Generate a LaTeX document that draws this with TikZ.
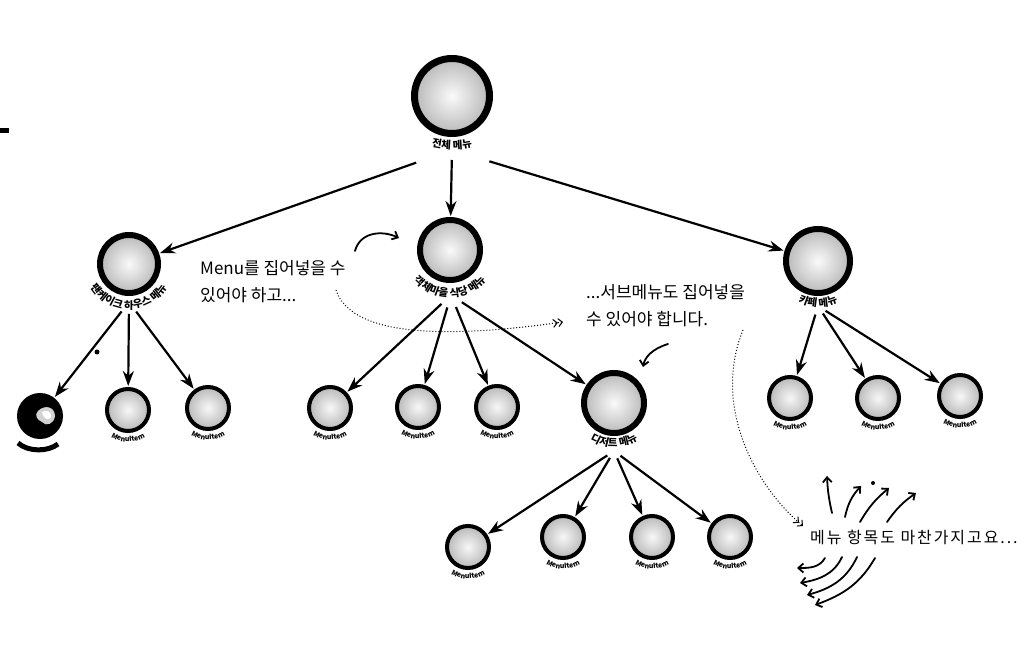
\documentclass[tikz,border=0pt]{standalone}
\usepackage{fontspec}
\newfontfamily\kr{Noto Sans CJK KR}
\usetikzlibrary{arrows.meta, calc, decorations.text}

\begin{document}
\begin{tikzpicture}[x=1pt, y=1pt,
        menu/.style={circle, draw, line width=6pt, inner sep=0pt, shading=radial, inner color=gray!4, outer color=gray!55},
        item/.style={circle, draw, line width=4pt, minimum size=42pt, inner sep=0pt, shading=radial, inner color=gray!6, outer color=gray!55},
        arr/.style={line width=2.2pt, -{Stealth[length=15pt, width=11pt]}, shorten >=1pt},
        hand/.style={line width=1.8pt, line cap=round, -{Straight Barb[length=5pt, width=9pt]}},
        dots/.style={dotted, line width=1pt, -{Straight Barb[length=4pt, width=8pt] Straight Barb[length=4pt, width=8pt]}},
        note/.style={font=\kr\fontsize{17}{27}\selectfont, align=left, inner sep=0pt},
        lbl/.style={decorate, decoration={text along path, text={|\kr\bfseries\fontsize{10.5}{10.5}\selectfont|#1}, text align=center}},
        itemlbl/.style={decorate, decoration={text along path, text={|\kr\bfseries\fontsize{7}{7}\selectfont|MenuItem}, text align=center}}
    ]
        \useasboundingbox (0,0) rectangle (1028,656);
        \fill (0,523) rectangle (9,528);

        % 메뉴
        \node [menu, line width=7pt, minimum size=75pt] (root) at (452,560) {};
        \node [menu, minimum size=58pt] (pancake) at (129,392) {};
        \node [menu, minimum size=60pt] (objville) at (450,406) {};
        \node [menu, minimum size=64pt] (cafe) at (818,395) {};
        \node [menu, minimum size=60pt] (dessert) at (614,253) {};

        % 메뉴 항목
        \node [circle, fill=black, minimum size=46pt, inner sep=0pt] (blob) at (40,240) {};
        \fill [gray!35] (38,245) .. controls (45,252) and (55,249) .. (55,240)
            .. controls (54,232) and (46,229) .. (42,234) .. controls (37,236) and (34,241) .. cycle;
        \fill [white] (42,244) .. controls (47,247) and (52,244) .. (51,239)
            .. controls (49,235) and (44,236) .. cycle;
        \draw [line width=5pt] (18,213) .. controls (28,204) and (48,204) .. (58,212);
        \fill (97,304) circle (2.5);
        \node [item] (p1) at (128,246) {};
        \node [item] (p2) at (208,248) {};
        \node [item] (o1) at (330,248) {};
        \node [item] (o2) at (418,249) {};
        \node [item] (o3) at (497,249) {};
        \node [item] (d1) at (468,109) {};
        \node [item] (d2) at (563,119) {};
        \node [item] (d3) at (652,119) {};
        \node [item] (d4) at (730,119) {};
        \node [item] (c1) at (790,258) {};
        \node [item] (c2) at (878,258) {};
        \node [item] (c3) at (960,260) {};

        % 이름표
        \path [lbl={전체 메뉴}] ($(452,597)+(245:90)$) arc[start angle=245, end angle=295, radius=90];
        \path [lbl={팬케이크 하우스 메뉴}] ($(pancake)+(185:45)$) arc[start angle=185, end angle=355, radius=45];
        \path [lbl={객체마을 식당 메뉴}] ($(objville)+(185:47)$) arc[start angle=185, end angle=355, radius=47];
        \path [lbl={카페 메뉴}] ($(cafe)+(200:46)$) arc[start angle=200, end angle=340, radius=46];
        \path [lbl={디저트 메뉴}] ($(dessert)+(200:44)$) arc[start angle=200, end angle=340, radius=44];
        \foreach \n in {p1,p2,o1,o2,o3,d1,d2,d3,d4,c1,c2,c3}
            \path [itemlbl] ($(\n)+(195:32)$) arc[start angle=195, end angle=345, radius=32];

        % 화살표
        \coordinate (rhub) at (452,506);
        \coordinate (phub) at (129,354);
        \coordinate (ohub) at (451,361);
        \coordinate (chub) at (818,350);
        \coordinate (dhub) at (614,205);
        \draw [arr, shorten <=38pt] (rhub) -- (pancake);
        \draw [arr, shorten <=10pt] (rhub) -- (objville);
        \draw [arr, shorten <=39pt] (rhub) -- (cafe);
        \draw [arr, shorten <=12pt] (phub) -- (blob);
        \draw [arr, shorten <=12pt] (phub) -- (p1);
        \draw [arr, shorten <=12pt] (phub) -- (p2);
        \draw [arr, shorten <=13pt] (ohub) -- (o1);
        \draw [arr, shorten <=13pt] (ohub) -- (o2);
        \draw [arr, shorten <=13pt] (ohub) -- (o3);
        \draw [arr, shorten <=13pt] (ohub) -- (dessert);
        \draw [arr, shorten <=9pt] (chub) -- (c1);
        \draw [arr, shorten <=9pt] (chub) -- (c2);
        \draw [arr, shorten <=9pt] (chub) -- (c3);
        \draw [arr, shorten <=8pt] (dhub) -- (d1);
        \draw [arr, shorten <=8pt] (dhub) -- (d2);
        \draw [arr, shorten <=8pt] (dhub) -- (d3);
        \draw [arr, shorten <=8pt] (dhub) -- (d4);

        % 손글씨 메모
        \node [note, anchor=north west] (note1) at (200,396) {Menu를 집어넣을 수\\있어야 하고...};
        \node [note, anchor=north west] (note2) at (586,372) {...서브메뉴도 집어넣을\\수 있어야 합니다.};
        \node [note, anchor=west, font=\kr\fontsize{16}{18}\selectfont\addfontfeature{LetterSpace=12}] (note3) at (810,119) {메뉴 항목도 마찬가지고요...};

        \coordinate (n1a) at (355,405);
        \coordinate (n1b) at (399,418);
        \draw [hand] (n1a) .. controls (360,424) and (382,426) .. (n1b);
        \coordinate (n2a) at (668,312);
        \coordinate (n2b) at (643,289);
        \draw [hand] (n2a) .. controls (652,307) and (645,299) .. (n2b);
        \coordinate (dt1a) at (336,366);
        \coordinate (dt1b) at (563,334);
        \draw [dots] (dt1a) .. controls (352,318) and (450,318) .. (dt1b);
        \coordinate (dt2a) at (743,326);
        \coordinate (dt2b) at (803,130);
        \draw [dots] (dt2a) .. controls (712,250) and (755,170) .. (dt2b);

        \draw [hand] (832,143) to[bend left=5] (827,180);
        \draw [hand] (845,139) to[bend left=15] (861,170);
        \fill (873,173) circle (2);
        \draw [hand] (860,134) to[bend left=10] (889,168);
        \draw [hand] (887,134) to[bend left=10] (916,163);
        \draw [hand] (825,98) to[out=240, in=0] (797,88);
        \draw [hand] (842,99) to[out=245, in=10] (800,73);
        \draw [hand] (857,99) to[out=245, in=15] (807,61);
        \draw [hand] (875,98) to[out=240, in=20] (815,51);
    \end{tikzpicture}
\end{document}
